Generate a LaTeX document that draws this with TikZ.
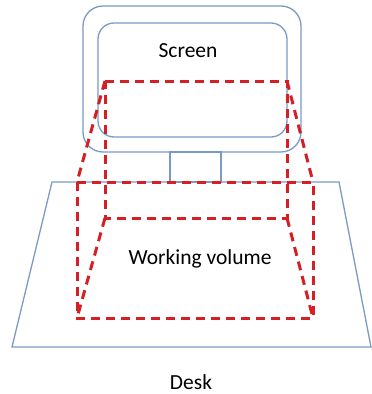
\documentclass[tikz,border=0pt]{standalone}
\usepackage{fontspec}
\setmainfont{Carlito}
\definecolor{frame}{RGB}{122,154,198}
\definecolor{vol}{RGB}{212,32,36}
\begin{document}
\begin{tikzpicture}[x=1pt,y=-1pt,
  outline/.style={draw=frame,line width=1.3pt},
  volline/.style={draw=vol,line width=3pt,dash pattern=on 9pt off 6pt},
  lbl/.style={font=\fontsize{21.5}{25}\selectfont,inner sep=0pt}]
\useasboundingbox (0,0) rectangle (372,394);
% desk
\draw[outline] (52,182) -- (339,182) -- (371,347) -- (12,347) -- cycle;
% monitor
\draw[outline,rounded corners=20pt] (83,6) rectangle (301,152);
\draw[outline,rounded corners=16pt] (98,23) rectangle (287,137);
\draw[outline] (170,152) rectangle (221,182);
% working volume: back face
\coordinate (b1) at (105,81);
\coordinate (b2) at (287,81);
\coordinate (b3) at (287,218);
\coordinate (b4) at (105,218);
% front face
\coordinate (f1) at (77,182);
\coordinate (f2) at (313,182);
\coordinate (f3) at (313,318);
\coordinate (f4) at (77,318);
\draw[volline] (b1) -- (b2) -- (b3) -- (b4) -- cycle;
\draw[volline] (f1) -- (f2) -- (f3) -- (f4) -- cycle;
\draw[volline] (b1) -- (f1);
\draw[volline] (b2) -- (f2);
\draw[volline] (b3) -- (f3);
\draw[volline] (b4) -- (f4);
% labels
\node[lbl] (screen) at (188,51) {Screen};
\node[lbl] (work) at (200,259) {Working volume};
\node[lbl] (desk) at (191,382) {Desk};
\end{tikzpicture}
\end{document}
